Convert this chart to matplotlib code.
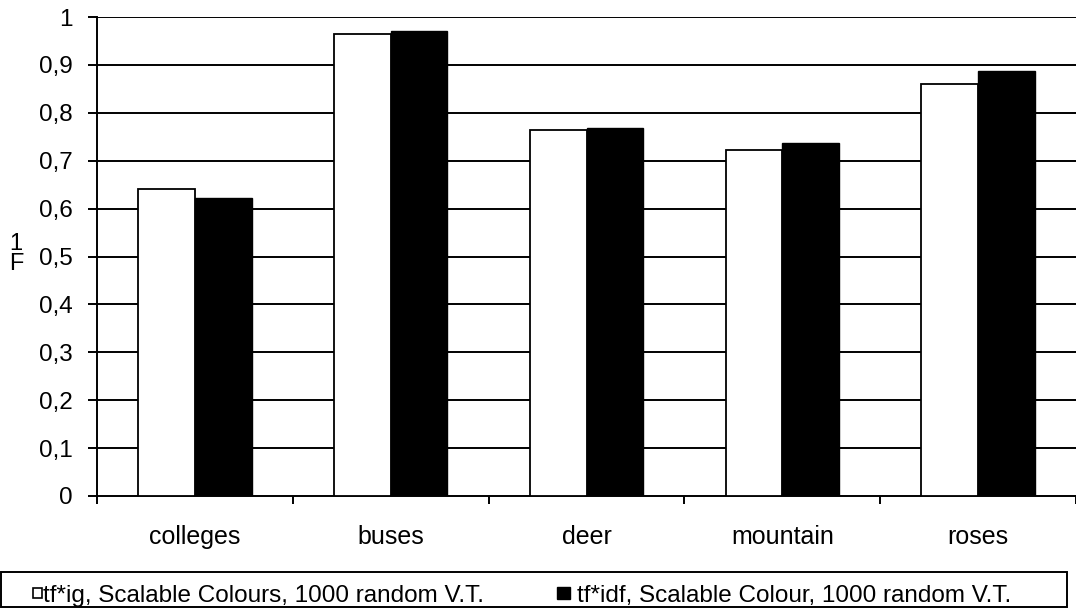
import matplotlib
matplotlib.use("Agg")
import matplotlib.pyplot as plt
import numpy as np
from matplotlib.patches import Rectangle

categories = ["colleges", "buses", "deer", "mountain", "roses"]
tfig_values = [0.640, 0.965, 0.764, 0.722, 0.860]
tfidf_values = [0.622, 0.970, 0.768, 0.736, 0.887]
series_labels = ["tf*ig, Scalable Colours, 1000 random V.T.",
                 "tf*idf, Scalable Colour, 1000 random V.T."]
yticks = [0, 0.1, 0.2, 0.3, 0.4, 0.5, 0.6, 0.7, 0.8, 0.9, 1.0]
ytick_labels = ["0", "0,1", "0,2", "0,3", "0,4", "0,5", "0,6", "0,7", "0,8", "0,9", "1"]

plt.rcParams["font.family"] = ["Liberation Sans", "DejaVu Sans"]

W, H = 1076, 610
fig = plt.figure(figsize=(W / 100, H / 100), dpi=100)
ax = fig.add_axes([97 / W, (H - 496) / H, 1 - 97 / W, (496 - 17) / H])

x = np.arange(len(categories))
w = 0.29
ax.bar(x - w / 2, tfig_values, width=w, color="white", edgecolor="black",
       linewidth=1.3, zorder=3)
ax.bar(x + w / 2, tfidf_values, width=w, color="black", edgecolor="black",
       linewidth=1.0, zorder=3)

ax.set_xlim(-0.5, len(categories) - 0.5)
ax.set_ylim(0, 1.0)
ax.set_yticks(yticks)
ax.set_yticklabels(ytick_labels, fontsize=17.5)
for y in yticks[1:]:
    ax.axhline(y, color="black", linewidth=1.4, zorder=1)

ax.set_xticks(np.arange(len(categories) + 1) - 0.5)
ax.set_xticklabels([])
ax.set_xticks(x, minor=True)
ax.set_xticklabels(categories, minor=True, fontsize=18)
ax.tick_params(axis="x", which="major", direction="out", length=5.5, width=1.4)
ax.tick_params(axis="x", which="minor", length=0, pad=21)
ax.tick_params(axis="y", direction="out", length=6.5, width=1.4, pad=11)

for side in ["top", "right"]:
    ax.spines[side].set_visible(False)
for side in ["left", "bottom"]:
    ax.spines[side].set_linewidth(1.4)

# y-axis label: F with the subscript 1 stacked above it
fig.text(16 / W, 1 - 254 / H, "1\nF", fontsize=17, ha="center", va="center",
         linespacing=0.85)

# legend box
fig.patches.append(Rectangle((1 / W, 3 / H), 1066 / W, 35 / H,
                             transform=fig.transFigure, fill=False,
                             edgecolor="black", linewidth=1.4))
base_y = 1 - 602 / H
fig.patches.append(Rectangle((33 / W, 1 - 598 / H), 9 / W, 10 / H,
                             transform=fig.transFigure, facecolor="white",
                             edgecolor="black", linewidth=1.2))
fig.text(43 / W, base_y, series_labels[0], fontsize=17.5, va="baseline",
         ha="left")
fig.patches.append(Rectangle((557 / W, 1 - 599 / H), 13 / W, 12 / H,
                             transform=fig.transFigure, facecolor="black",
                             edgecolor="black", linewidth=1.0))
fig.text(577 / W, base_y, series_labels[1], fontsize=17.5, va="baseline",
         ha="left")

fig.savefig("out.png", dpi=100)
